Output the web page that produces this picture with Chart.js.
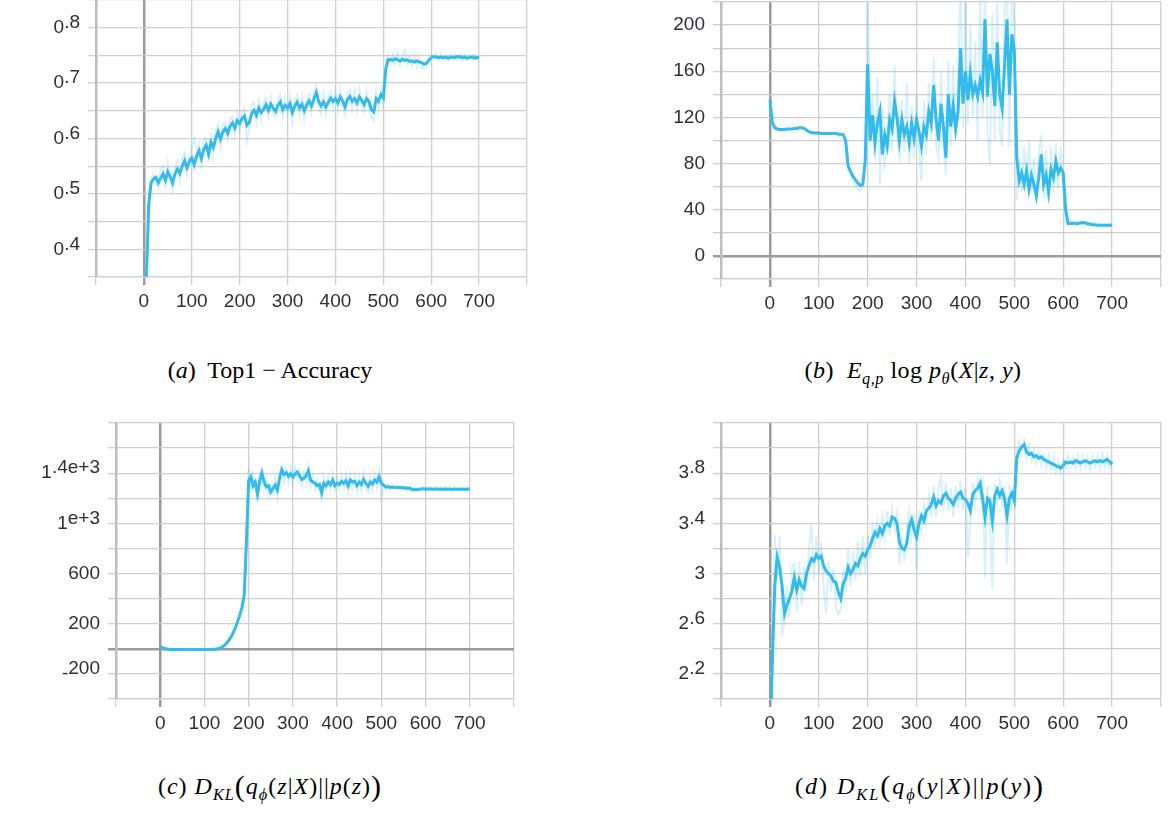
<!DOCTYPE html>
<html><head><meta charset="utf-8">
<script src="https://cdn.jsdelivr.net/npm/chart.js@4.4.1/dist/chart.umd.min.js"></script>
<style>
html,body{margin:0;padding:0;background:#fff;width:1172px;height:815px;overflow:hidden;position:relative}
canvas{position:absolute}
.cap{position:absolute;transform:translateX(-50%);white-space:nowrap;font-family:"Liberation Serif","DejaVu Serif",serif;font-size:24px;line-height:1;color:#000}
.cap sub{font-size:0.68em;vertical-align:-0.35em;line-height:0}
.cap .bp{font-size:1.25em;vertical-align:-0.08em;line-height:0}
</style></head><body>
<canvas id="ca" width="540" height="330" style="left:0;top:0"></canvas>
<canvas id="cb" width="552" height="330" style="left:620px;top:0"></canvas>
<canvas id="cc" width="540" height="340" style="left:0;top:400px"></canvas>
<canvas id="cd" width="552" height="340" style="left:620px;top:400px"></canvas>
<div class="cap" style="left:270px;top:358px">(<i>a</i>)&nbsp; Top1 − Accuracy</div>
<div class="cap" style="left:913px;top:358px;letter-spacing:0.5px">(<i>b</i>)&nbsp; <i>E</i><sub><i>q,p</i></sub> log <i>p</i><sub><i>θ</i></sub>(<i>X</i>|<i>z</i>, <i>y</i>)</div>
<div class="cap" style="left:270px;top:774px;letter-spacing:1px">(<i>c</i>) <i>D</i><sub><i>KL</i></sub><span class="bp">(</span><i>q</i><sub><i>ϕ</i></sub>(<i>z</i>|<i>X</i>)||<i>p</i>(<i>z</i>)<span class="bp">)</span></div>
<div class="cap" style="left:920px;top:774px;letter-spacing:2px">(<i>d</i>) <i>D</i><sub><i>KL</i></sub><span class="bp">(</span><i>q</i><sub><i>ϕ</i></sub>(<i>y</i>|<i>X</i>)||<i>p</i>(<i>y</i>)<span class="bp">)</span></div>
<script>
const steps = [0,5,10,15,20,25,30,35,40,45,50,55,60,65,70,75,80,85,90,95,
100,105,110,115,120,125,130,135,140,145,150,155,160,165,170,175,180,185,190,195,
200,205,210,215,220,225,230,235,240,245,250,255,260,265,270,275,280,285,290,295,
300,305,310,315,320,325,330,335,340,345,350,355,360,365,370,375,380,385,390,395,
400,405,410,415,420,425,430,435,440,445,450,455,460,465,470,475,480,485,490,495,
500,505,510,515,520,525,530,535,540,545,550,555,560,565,570,575,580,585,590,595,
600,605,610,615,620,625,630,635,640,645,650,655,660,665,670,675,680,685,690,695,700];

const xTickLabels = ['0','100','200','300','400','500','600','700'];

// (a) Top1 accuracy
const aSmooth = [0.20,0.34,0.48,0.52,0.527,0.53,0.52,0.528,0.536,0.524,
0.54,0.531,0.52,0.536,0.545,0.537,0.55,0.56,0.547,0.558,
0.565,0.553,0.568,0.578,0.564,0.58,0.588,0.572,0.593,0.584,
0.6,0.612,0.599,0.612,0.618,0.609,0.622,0.628,0.619,0.632,
0.627,0.636,0.641,0.624,0.629,0.645,0.651,0.642,0.655,0.647,
0.652,0.661,0.651,0.662,0.655,0.649,0.66,0.666,0.652,0.66,
0.655,0.663,0.647,0.658,0.666,0.655,0.662,0.65,0.66,0.668,
0.659,0.671,0.683,0.667,0.659,0.666,0.657,0.665,0.673,0.667,
0.672,0.664,0.675,0.668,0.657,0.67,0.676,0.667,0.672,0.664,
0.675,0.669,0.661,0.672,0.667,0.652,0.648,0.672,0.667,0.679,
0.673,0.725,0.742,0.743,0.741,0.744,0.742,0.74,0.743,0.741,
0.742,0.739,0.74,0.738,0.74,0.738,0.737,0.734,0.736,0.741,
0.746,0.748,0.747,0.746,0.747,0.746,0.747,0.745,0.746,0.747,
0.746,0.748,0.747,0.746,0.747,0.745,0.746,0.747,0.745,0.746,0.746];
const aRaw = [0.18,0.33,0.49,0.53,0.535,0.52,0.51,0.545,0.55,0.515,
0.555,0.52,0.505,0.55,0.56,0.525,0.565,0.575,0.535,0.57,
0.58,0.6,0.58,0.59,0.55,0.595,0.6,0.558,0.61,0.57,
0.615,0.625,0.585,0.628,0.63,0.6,0.635,0.64,0.605,0.645,
0.615,0.648,0.655,0.595,0.62,0.66,0.665,0.63,0.668,0.635,
0.665,0.672,0.64,0.675,0.645,0.638,0.672,0.68,0.64,0.672,
0.645,0.675,0.632,0.67,0.678,0.642,0.675,0.635,0.672,0.68,
0.648,0.682,0.695,0.655,0.645,0.68,0.645,0.678,0.686,0.655,
0.685,0.652,0.688,0.655,0.642,0.682,0.688,0.655,0.685,0.65,
0.688,0.656,0.648,0.685,0.654,0.638,0.632,0.686,0.655,0.69,
0.662,0.73,0.75,0.735,0.752,0.735,0.755,0.732,0.75,0.76,
0.735,0.75,0.732,0.747,0.73,0.745,0.728,0.726,0.73,0.745,
0.752,0.744,0.753,0.741,0.752,0.742,0.751,0.74,0.752,0.742,
0.751,0.743,0.752,0.741,0.751,0.742,0.75,0.743,0.751,0.742,0.748];
const aYValues = [0.4,0.5,0.6,0.7,0.8];
const aYLabels = ['0.4','0.5','0.6','0.7','0.8'];

// (b) E log p(X|z,y)
const bSmooth = [135,116,111,110,109.5,109.5,109.5,110,110,110,
110.5,110.5,111,111,110.5,109,107.5,107,106.5,106.5,
106.5,106,106,106,106,106,106,106,105.5,105.5,
105,100,78,73,69,66,63,61,62,82,
166,100,122,98,115,125,88,105,95,118,
110,134,120,100,118,105,112,98,115,102,
118,108,95,112,105,125,115,148,118,100,
132,112,85,140,112,130,110,125,180,132,
160,135,158,140,148,138,152,142,205,138,
175,160,130,185,140,128,165,205,140,192,
178,85,65,72,62,74,58,70,62,52,
68,88,62,70,55,75,68,82,72,76,
72,40,28,28,28.5,28,28,28.5,29,28.5,
28,27.5,27,27,26.5,26.5,26.5,26.5,26.5,26.8,26.5];
const bRaw = [135,116,111,110,109.5,109.5,109.5,110,110,110,
110.5,110.5,111,111,110.5,109,107.5,107,106.5,106.5,
106.5,106,106,106,106,106,106,106,105.5,105.5,
105,98,76,70,66,62,58,56,60,90,
240,95,140,82,155,62,130,75,110,140,
90,165,105,82,135,90,150,80,130,85,
140,95,65,135,88,150,100,172,95,85,
160,95,70,170,95,165,100,155,240,110,
235,115,200,120,185,100,230,120,240,105,
78,210,100,230,110,95,210,240,95,230,
200,48,85,55,95,60,100,55,85,45,
90,105,50,92,48,95,55,98,58,95,
60,32,26,30,27,30,27,31,27,30,
26.5,29,26,28.5,25.5,28,25.5,27.5,25.5,27.5,26];
const bYValues = [0,40,80,120,160,200];
const bYLabels = ['0','40','80','120','160','200'];

// (c) KL(q(z|X)||p(z))
const cSmooth = [18,8,2,-2,-4,-5,-5,-5,-5,-5,
-5,-5,-5,-5,-5,-5,-5,-5,-5,-5,
-5,-5,-5,-5,-4,-3,0,5,14,28,
45,68,95,128,168,215,270,330,430,860,
1340,1370,1300,1330,1235,1340,1400,1330,1290,1300,
1250,1280,1305,1265,1360,1425,1390,1405,1375,1395,
1370,1395,1410,1380,1350,1360,1380,1420,1345,1330,
1320,1300,1310,1245,1320,1300,1330,1310,1345,1300,
1320,1310,1335,1320,1340,1300,1345,1330,1335,1300,
1330,1310,1350,1320,1295,1330,1315,1345,1330,1370,
1320,1305,1290,1292,1286,1290,1287,1285,1287,1283,
1285,1280,1282,1278,1270,1268,1272,1270,1275,1276,
1274,1273,1275,1272,1274,1273,1272,1274,1272,1273,
1272,1274,1271,1273,1272,1271,1273,1272,1271,1274,1272];
const cRaw = [20,10,3,-1,-4,-5,-5,-5,-5,-5,
-5,-5,-5,-5,-5,-5,-5,-5,-5,-5,
-5,-5,-5,-5,-4,-3,0,5,14,28,
45,68,95,128,168,215,270,330,430,860,
1450,1290,1400,1260,1200,1400,1440,1270,1350,1220,
1300,1230,1360,1210,1410,1460,1340,1450,1320,1440,
1320,1440,1350,1430,1300,1410,1320,1450,1290,1370,
1270,1350,1270,1190,1360,1260,1370,1270,1390,1260,
1360,1270,1380,1280,1390,1260,1390,1280,1380,1250,
1370,1260,1400,1280,1250,1370,1270,1390,1290,1410,
1200,1330,1270,1310,1270,1305,1272,1300,1272,1300,
1268,1295,1266,1292,1255,1282,1258,1285,1262,1290,
1262,1285,1262,1285,1260,1284,1262,1285,1260,1284,
1262,1283,1261,1284,1260,1283,1262,1282,1261,1283,1270];
const cYValues = [-200,200,600,1000,1400];
const cYLabels = ['-200','200','600','1e+3','1.4e+3'];

// (d) KL(q(y|X)||p(y))
const dSmooth = [1.5,2.3,2.9,3.13,3.05,2.9,2.68,2.75,2.8,2.86,
2.97,2.87,2.95,2.9,2.88,3.0,3.06,3.12,3.1,3.15,
3.12,3.14,3.06,3.02,3.0,2.98,2.94,2.93,2.85,2.8,
2.92,2.96,3.05,3.0,3.03,3.08,3.06,3.12,3.16,3.14,
3.19,3.22,3.28,3.33,3.3,3.36,3.32,3.38,3.4,3.38,
3.45,3.44,3.4,3.25,3.2,3.19,3.24,3.38,3.43,3.35,
3.29,3.4,3.46,3.42,3.5,3.52,3.55,3.61,3.54,3.58,
3.56,3.62,3.64,3.6,3.58,3.55,3.6,3.63,3.65,3.6,
3.59,3.56,3.5,3.63,3.66,3.68,3.72,3.6,3.45,3.6,
3.58,3.42,3.62,3.67,3.62,3.66,3.6,3.46,3.6,3.64,
3.58,3.92,3.98,4.01,4.03,3.97,3.95,3.96,3.93,3.94,
3.92,3.93,3.91,3.9,3.89,3.88,3.87,3.86,3.85,3.84,
3.86,3.89,3.88,3.89,3.88,3.9,3.89,3.88,3.89,3.9,
3.89,3.88,3.89,3.9,3.89,3.9,3.89,3.9,3.91,3.89,3.87];
const dRaw = [1.4,2.3,3.31,2.95,3.3,2.51,2.62,2.9,2.65,3.05,
3.08,2.7,3.1,2.75,3.05,2.9,3.2,3.39,2.95,3.3,
3.0,3.25,2.88,2.68,3.1,2.85,3.05,2.75,2.67,2.72,
3.05,2.85,3.2,2.9,3.18,2.95,3.25,2.98,3.3,3.0,
3.3,3.12,3.4,3.2,3.42,3.25,3.45,3.28,3.5,3.3,
3.52,3.36,3.48,3.07,3.3,3.1,3.35,3.5,3.3,3.48,
3.03,3.5,3.35,3.55,3.4,3.62,3.45,3.7,3.45,3.68,
3.77,3.5,3.72,3.5,3.68,3.45,3.7,3.52,3.74,3.5,
3.68,3.13,3.42,3.72,3.55,3.76,3.62,3.78,2.97,3.7,
3.45,2.88,3.72,3.58,3.74,3.55,3.7,3.08,3.72,3.5,
3.7,3.98,4.05,3.95,4.06,3.92,4.02,3.9,3.99,3.88,
3.97,3.87,3.95,3.84,3.94,3.83,3.92,3.81,3.9,3.8,
3.9,3.84,3.94,3.85,3.93,3.84,3.95,3.84,3.94,3.85,
3.93,3.83,3.94,3.85,3.93,3.84,3.95,3.85,3.94,3.83,3.9];
const dYValues = [2.2,2.6,3,3.4,3.8];
const dYLabels = ['2.2','2.6','3','3.4','3.8'];

const LINE = '#33bbee';
const RAW = 'rgba(51,187,238,0.2)';
const GRID = '#cfcfcf';
const ZERO = '#9a9a9a';
const TXT = '#2e2e38';
const FONT = '"Liberation Sans", Arial, sans-serif';
const FSIZE = 19;

function makeChart(id, cfg) {
  const yLabelPlugin = {
    id: 'yLabels_' + id,
    afterDraw(chart) {
      const ctx = chart.ctx, sc = chart.scales.y, x = chart.chartArea.left - 16;
      ctx.save();
      ctx.font = FSIZE + 'px ' + FONT;
      ctx.fillStyle = TXT;
      ctx.textAlign = 'right';
      ctx.textBaseline = 'middle';
      cfg.yValues.forEach((v, i) => {
        const lab = cfg.yLabels[i];
        const y = sc.getPixelForValue(v);
        if (/^\d+$/.test(lab)) {
          ctx.fillText(lab, x, y);
        } else {
          const rest = lab.slice(1);
          ctx.fillText(rest, x, y - 5);
          const w = ctx.measureText(rest).width;
          ctx.fillText(lab[0], x - w, y);
        }
      });
      ctx.restore();
    }
  };
  const toPts = vals => steps.map((s, i) => ({x: s, y: vals[i]}));
  return new Chart(document.getElementById(id), {
    type: 'line',
    data: {
      datasets: [
        {data: toPts(cfg.smooth), borderColor: LINE, borderWidth: 3, pointRadius: 0, tension: 0, fill: false},
        {data: toPts(cfg.raw), borderColor: RAW, borderWidth: 2, pointRadius: 0, tension: 0, fill: false}
      ]
    },
    options: {
      responsive: false,
      animation: false,
      devicePixelRatio: 1,
      layout: {padding: {left: 0, right: cfg.padR, top: cfg.padT, bottom: 0}},
      plugins: {legend: {display: false}, tooltip: {enabled: false}},
      scales: {
        x: {
          type: 'linear', min: -100, max: 800,
          ticks: {
            stepSize: 100, autoSkip: false, maxRotation: 0, padding: 5,
            font: {family: FONT, size: FSIZE}, color: TXT,
            callback: v => xTickLabels.includes(String(v)) ? String(v) : ''
          },
          grid: {
            color: c => (c.tick && c.tick.value === 0) ? ZERO : GRID,
            lineWidth: c => (c.tick && c.tick.value === 0) ? 2.5 : 1.3,
            tickLength: 8
          },
          border: {color: GRID, width: 1.3},
          afterFit: s => { s.height = cfg.xHeight; }
        },
        y: {
          min: cfg.yMin, max: cfg.yMax,
          ticks: {display: false, stepSize: cfg.yStep},
          grid: {
            color: c => (cfg.zeroY && c.tick && Math.abs(c.tick.value) < 1e-9) ? ZERO : GRID,
            lineWidth: c => (cfg.zeroY && c.tick && Math.abs(c.tick.value) < 1e-9) ? 2.5 : 1.3,
            tickLength: 8
          },
          border: {color: '#bdbdbd', width: 2.5},
          afterFit: s => { s.width = cfg.yWidth; }
        }
      }
    },
    plugins: [yLabelPlugin]
  });
}

makeChart('ca', {smooth: aSmooth, raw: aRaw, yMin: 0.35, yMax: 0.85, yStep: 0.05, yValues: aYValues, yLabels: aYLabels, yWidth: 96, padR: 13, padT: 0, xHeight: 53, zeroY: false});
makeChart('cb', {smooth: bSmooth, raw: bRaw, yMin: -20, yMax: 220, yStep: 20, yValues: bYValues, yLabels: bYLabels, yWidth: 101, padR: 11, padT: 2, xHeight: 51, zeroY: true});
makeChart('cc', {smooth: cSmooth, raw: cRaw, yMin: -400, yMax: 1800, yStep: 200, yValues: cYValues, yLabels: cYLabels, yWidth: 116, padR: 26, padT: 23, xHeight: 41, zeroY: true});
makeChart('cd', {smooth: dSmooth, raw: dRaw, yMin: 2.0, yMax: 4.2, yStep: 0.2, yValues: dYValues, yLabels: dYLabels, yWidth: 101, padR: 11, padT: 23, xHeight: 41, zeroY: false});
</script>
</body></html>
